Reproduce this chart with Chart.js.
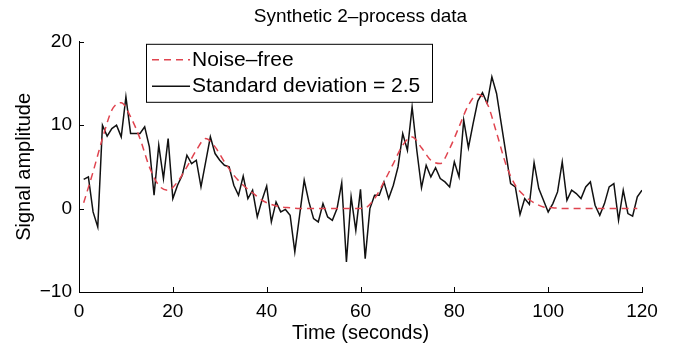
<!DOCTYPE html>
<html>
<head>
<meta charset="utf-8">
<script src="https://cdn.jsdelivr.net/npm/chart.js@4.4.1/dist/chart.umd.min.js"></script>
<style>
  html, body { margin: 0; padding: 0; background: #fff; }
  canvas { display: block; }
</style>
</head>
<body>
<canvas id="myChart" width="675" height="350"></canvas>
<script>
const chartTitle = 'Synthetic 2–process data'
const xTitle = 'Time (seconds)'
const yTitle = 'Signal amplitude'
const seriesLabels = ['Noise–free', 'Standard deviation = 2.5']
const xTicks = [0, 20, 40, 60, 80, 100, 120]
const yTicks = [-10, 0, 10, 20]

// noisy signal, one sample per second
const noisyTime = [
  1, 2, 3, 4, 5, 6, 7, 8, 9, 10,
  11, 12, 13, 14, 15, 16, 17, 18, 19, 20,
  21, 22, 23, 24, 25, 26, 27, 28, 29, 30,
  31, 32, 33, 34, 35, 36, 37, 38, 39, 40,
  41, 42, 43, 44, 45, 46, 47, 48, 49, 50,
  51, 52, 53, 54, 55, 56, 57, 58, 59, 60,
  61, 62, 63, 64, 65, 66, 67, 68, 69, 70,
  71, 72, 73, 74, 75, 76, 77, 78, 79, 80,
  81, 82, 83, 84, 85, 86, 87, 88, 89, 90,
  91, 92, 93, 94, 95, 96, 97, 98, 99, 100,
  101, 102, 103, 104, 105, 106, 107, 108, 109, 110,
  111, 112, 113, 114, 115, 116, 117, 118, 119, 120
]
const noisyValues = [
  3.5, 3.8, -0.4, -2.2, 10.0, 8.7, 9.6, 10.0, 8.6, 13.4,
  9.0, 9.0, 9.0, 9.8, 7.4, 1.6, 7.6, 3.6, 8.4, 1.2,
  2.8, 4.0, 6.4, 5.4, 5.8, 2.6, 5.6, 8.6, 6.6, 5.8,
  5.2, 5.0, 2.8, 1.6, 3.9, 1.2, 2.2, -1.0, 1.0, 2.7,
  -1.6, 0.8, -0.4, -0.1, -0.8, -5.2, -0.9, 3.4, 0.8, -1.2,
  -1.6, 0.6, -1.0, -1.4, 0.0, 3.1, -6.4, 1.4, -2.6, 2.3,
  -6.0, 0.0, 1.6, 1.6, 3.2, 1.2, 2.8, 5.0, 9.0, 7.0,
  12.2, 7.0, 2.5, 5.2, 3.8, 4.9, 3.6, 3.2, 2.6, 5.6,
  3.8, 10.6, 7.3, 10.2, 12.9, 13.9, 12.6, 15.8, 13.8, 10.2,
  6.6, 3.0, 2.6, -0.7, 1.2, 0.5, 5.5, 2.4, 1.0, -0.4,
  0.6, 2.0, 5.6, 1.0, 2.2, 1.8, 1.2, 2.6, 3.2, 0.4,
  -0.8, 0.6, 2.6, 3.0, -1.4, 2.2, -0.6, -0.9, 1.4, 2.2
]

const cleanTime = [
  1, 3, 5, 7, 9, 11, 13, 15, 17, 19,
  21, 23, 25, 27, 29, 31, 33, 35, 37, 39,
  41, 43, 45, 47, 49, 51, 53, 55, 57, 59,
  61, 63, 65, 67, 69, 71, 73, 75, 77, 79,
  81, 83, 85, 87, 89, 91, 93, 95, 97, 99,
  101, 103, 105, 107, 109, 111, 113, 115, 117, 119
]
const cleanValues = [
  0.7, 4.4, 8.4, 11.8, 12.7, 11.0, 8.4, 5.0, 2.8, 2.2,
  3.2, 5.0, 7.0, 8.4, 7.4, 5.6, 4.0, 2.8, 1.9, 1.0,
  0.5, 0.2, 0.1, 0.0, 0.0, 0.0, 0.0, 0.0, 0.0, 0.0,
  0.1, 1.2, 3.2, 5.4, 7.6, 8.6, 7.3, 5.8, 5.4, 7.2,
  9.8, 12.4, 13.7, 12.6, 9.1, 5.3, 2.8, 1.5, 0.7, 0.2,
  0.1, 0.0, 0.0, 0.0, 0.0, 0.0, 0.0, 0.0, 0.0, 0.0
]

const FONT = 'Liberation Sans, Arial, Helvetica, sans-serif'
const RED = '#e0444f'

const toPoints = (xs, ys) => xs.map((x, i) => ({ x: x, y: ys[i] }))
const minusSign = v => String(v).replace('-', '\u2212')

// matlab style ticks pointing into the plot
const inwardTicks = {
  id: 'inwardTicks',
  afterDatasetsDraw(chart) {
    const { ctx, chartArea: a, scales: { x, y } } = chart
    ctx.save()
    ctx.strokeStyle = '#000'
    ctx.lineWidth = 1
    ctx.beginPath()
    xTicks.forEach(v => {
      const px = Math.round(x.getPixelForValue(v)) + 0.5
      ctx.moveTo(px, a.bottom)
      ctx.lineTo(px, a.bottom - 5)
    })
    yTicks.forEach(v => {
      const py = Math.round(y.getPixelForValue(v)) + 0.5
      ctx.moveTo(a.left, py)
      ctx.lineTo(a.left + 5, py)
    })
    ctx.stroke()
    ctx.restore()
  }
}

// legend box in the upper left of the axes
const boxLegend = {
  id: 'boxLegend',
  afterDraw(chart) {
    const { ctx, chartArea: a } = chart
    const left = a.left + 67, top = a.top + 2, w = 286, h = 58
    ctx.save()
    ctx.fillStyle = '#fff'
    ctx.fillRect(left, top, w, h)
    ctx.strokeStyle = '#000'
    ctx.lineWidth = 1
    ctx.strokeRect(left + 0.5, top + 0.5, w, h)
    ctx.font = '21px ' + FONT
    ctx.textBaseline = 'middle'
    chart.data.datasets.forEach((ds, i) => {
      const yy = top + 16 + i * 26.5
      ctx.strokeStyle = ds.borderColor
      ctx.lineWidth = 1.5
      ctx.setLineDash(ds.borderDash || [])
      ctx.beginPath()
      ctx.moveTo(left + 6, yy)
      ctx.lineTo(left + 44, yy)
      ctx.stroke()
      ctx.setLineDash([])
      ctx.fillStyle = '#000'
      ctx.fillText(ds.label, left + 46, yy)
    })
    ctx.restore()
  }
}

new Chart(document.getElementById('myChart'), {
  type: 'line',
  data: {
    datasets: [
      {
        label: seriesLabels[0],
        data: toPoints(cleanTime, cleanValues),
        borderColor: RED,
        borderWidth: 1.5,
        borderDash: [7, 5],
        cubicInterpolationMode: 'monotone',
        pointRadius: 0,
        fill: false
      },
      {
        label: seriesLabels[1],
        data: toPoints(noisyTime, noisyValues),
        borderColor: '#111',
        borderWidth: 1.5,
        tension: 0,
        pointRadius: 0,
        fill: false
      }
    ]
  },
  options: {
    responsive: false,
    animation: false,
    devicePixelRatio: 1,
    layout: { padding: { right: 33 } },
    plugins: {
      legend: { display: false },
      tooltip: { enabled: false },
      title: {
        display: true,
        fullSize: false,
        text: chartTitle,
        color: '#000',
        font: { family: FONT, size: 19, weight: 'normal' },
        padding: { top: 5, bottom: 14 }
      }
    },
    scales: {
      x: {
        type: 'linear',
        min: xTicks[0],
        max: xTicks[xTicks.length - 1],
        afterBuildTicks: s => { s.ticks = xTicks.map(v => ({ value: v })) },
        afterFit: s => { s.height = 58 },
        grid: { display: true, drawOnChartArea: false, drawTicks: false },
        border: { display: true, color: '#000', width: 1 },
        ticks: {
          color: '#000',
          font: { family: FONT, size: 19 },
          padding: 8,
          maxRotation: 0,
          callback: minusSign
        },
        title: {
          display: true,
          text: xTitle,
          color: '#000',
          font: { family: FONT, size: 20 },
          padding: { top: 0, bottom: 5 }
        }
      },
      y: {
        type: 'linear',
        min: yTicks[0],
        max: yTicks[yTicks.length - 1],
        afterBuildTicks: s => { s.ticks = yTicks.map(v => ({ value: v })) },
        afterFit: s => { s.width = 79 },
        grid: { display: true, drawOnChartArea: false, drawTicks: false },
        border: { display: true, color: '#000', width: 1 },
        ticks: {
          color: '#000',
          font: { family: FONT, size: 19 },
          padding: 7,
          callback: minusSign
        },
        title: {
          display: true,
          text: yTitle,
          color: '#000',
          font: { family: FONT, size: 20 },
          padding: { top: 12, bottom: 0 }
        }
      }
    }
  },
  plugins: [inwardTicks, boxLegend]
})
</script>
</body>
</html>
